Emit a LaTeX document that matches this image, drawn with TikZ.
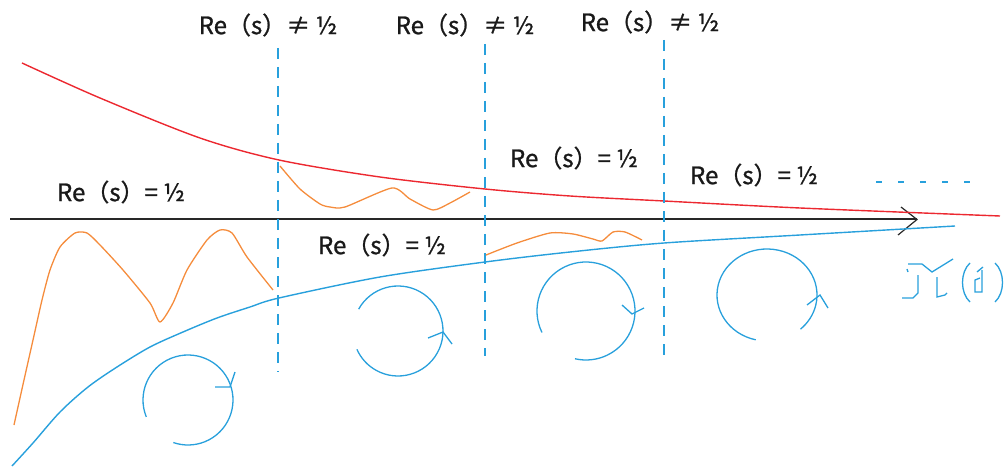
\documentclass[tikz,border=0pt]{standalone}
\usepackage{fontspec}
\newfontfamily\cjk[FakeBold=1]{Noto Sans CJK SC}
\definecolor{cred}{RGB}{236,40,48}
\definecolor{corange}{RGB}{245,140,60}
\definecolor{cblue}{RGB}{40,160,220}
\definecolor{caxis}{RGB}{40,40,40}
\begin{document}
\begin{tikzpicture}[x=1pt,y=-1pt,
  lbl/.style={font=\cjk\fontsize{24}{24}\selectfont, text=black!90, inner sep=0pt},
  redc/.style={cred, line width=1.4pt},
  bluec/.style={cblue, line width=1.4pt},
  orc/.style={corange, line width=1.3pt},
  vdash/.style={cblue, line width=1.6pt, dash pattern=on 11pt off 8pt},
  circ/.style={cblue, line width=1.3pt},
  tick/.style={cblue, line width=1.3pt}]
\useasboundingbox (0,0) rectangle (1005,468);
% axis
\coordinate (ax0) at (10,219.5);
\coordinate (ax1) at (917,219.5);
\draw[caxis, line width=2pt] (ax0) -- (ax1);
\draw[caxis, line width=1.2pt] (901,207) -- (ax1) -- (898,235);
% red curve
\draw[redc] plot[smooth, tension=0.5] coordinates {(22,63) (100,98) (200,138) (279,160) (380,177) (485,189) (570,196) (664,201) (800,208) (1000,216)};
% blue curve
\draw[bluec] plot[smooth, tension=0.5] coordinates {(12,466) (33,443) (60,412) (88,387) (117,367) (150,347) (183,332) (217,318) (250,307) (279,298) (380,277) (485,262) (570,252) (664,243) (800,235) (955,226)};
% dashed verticals
\draw[vdash] (278,48) -- (278,372);
\draw[vdash] (485,44) -- (485,356);
\draw[vdash] (664,40) -- (664,356);
\draw[cblue, line width=1.6pt, dash pattern=on 6pt off 16pt] (876,182) -- (980,182);
% orange curves
\draw[orc] plot[smooth, tension=0.4] coordinates {(14,425) (24,380) (33,340) (42,300) (50,270) (60,247) (75,233) (87,233) (100,245) (123,270) (150,303) (160,322) (173,303) (187,270) (207,240) (220,230) (232,233) (247,257) (273,290)};
\draw[orc] plot[smooth, tension=0.4] coordinates {(280,166) (300,189) (320,204) (330,207) (345,207) (392,188) (410,199) (433,210) (450,203) (470,192)};
\draw[orc] plot[smooth, tension=0.4] coordinates {(486,255) (517,243) (550,233) (573,234) (593,239) (602,241) (613,232) (625,232) (642,240)};
% circles
\draw[circ] (188,400) ++(158:45) arc[start angle=158, end angle=469, radius=45];
\draw[tick] (215,387) -- (230,387) -- (235,372);
\draw[circ] (398,331) ++(209:45) arc[start angle=209, end angle=516, radius=45];
\draw[tick] (428,338) -- (443,332) -- (452,344);
\draw[circ] (586,311) ++(154:49) arc[start angle=154, end angle=463, radius=49];
\draw[tick] (622,305) -- (632,314) -- (644,308);
\draw[circ] (767,295) ++(103:50 and 46) arc[start angle=103, end angle=408, x radius=50, y radius=46];
\draw[tick] (807,305) -- (820,295) -- (828,308);
% handwritten M(s)
\begin{scope}[cblue, line width=1.3pt]
\draw (908,264) -- (922,264) -- (932,272) -- (953,259);
\draw (907,269) -- (908,272);
\draw (918,275) -- (918,293) -- (913,298) -- (902,298);
\draw (937,277) -- (937,297) -- (945,295) -- (947,293);
\draw (970,263) .. controls (960,272) and (960,293) .. (970,302);
\draw (995,263) .. controls (1005,272) and (1005,293) .. (995,302);
\draw (977,272) -- (983,267);
\draw (982,270) -- (982,292) -- (975,292) -- (975,280) -- (980,278);
\end{scope}
% labels
\node[lbl] (n1) at (268,25) {Re（s）≠ ½};
\node[lbl] (n2) at (465,25) {Re（s）≠ ½};
\node[lbl] (n3) at (650,22) {Re（s）≠ ½};
\node[lbl] (e1) at (121,192) {Re（s）= ½};
\node[lbl] (e2) at (382,245) {Re（s）= ½};
\node[lbl] (e3) at (574,158) {Re（s）= ½};
\node[lbl] (e4) at (754,175) {Re（s）= ½};
\end{tikzpicture}
\end{document}
